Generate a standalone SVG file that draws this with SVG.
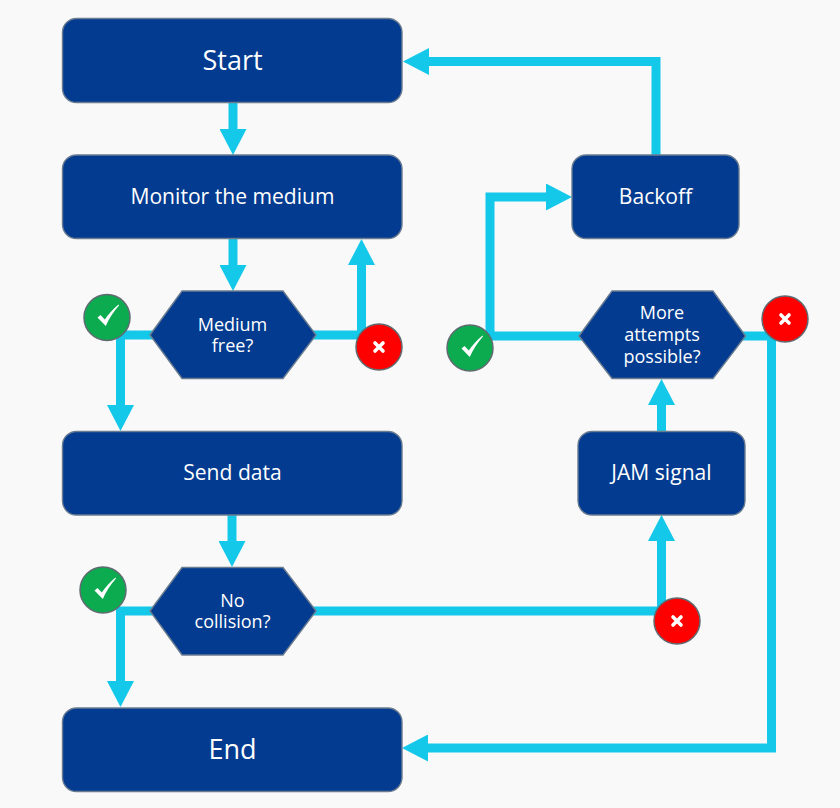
<svg xmlns="http://www.w3.org/2000/svg" width="840" height="808" viewBox="0 0 840 808">
<style>
.box{fill:#023b8f;stroke:#6b7c90;stroke-width:1.4}
.lbl{font-family:"Open Sans","Noto Sans",sans-serif;fill:#fff;text-anchor:middle}
.conn{fill:none;stroke:#14c8ea;stroke-width:9;marker-end:url(#head)}
.ok{fill:#0cab50;stroke:#5f6b70;stroke-width:1.5}
.no{fill:#fe0000;stroke:#5f6b70;stroke-width:1.5}
.mark{fill:#fff}
.cross{fill:none;stroke:#fff;stroke-width:3.6;stroke-linecap:round}
</style>
<defs>
<marker id="head" markerUnits="userSpaceOnUse" markerWidth="27" markerHeight="27" refX="0" refY="13.5" orient="auto">
<path d="M0 0L26 13.5L0 27Z" fill="#14c8ea"/>
</marker>
<path id="check" d="M-10.500 1.500L-7.500 -1L-3.200 3.500C0.500 -2 5 -7 10.500 -11.500L11 -10.500C5.500 -4.500 1 2.500 -2.200 10Z"/>
<path id="x" d="M-4 -4L4 4M4 -4L-4 4"/>
</defs>
<rect width="840" height="808" fill="#f9f9fa"/>
<g id="connectors">
<path class="conn" d="M233 102V129"/>
<path class="conn" d="M233 238V265"/>
<path class="conn" d="M305 335H361.500V265"/>
<path class="conn" d="M160 335H120.500V405"/>
<path class="conn" d="M232 515V541"/>
<path class="conn" d="M160 611H120.500V681"/>
<path class="conn" d="M305 611H661.500V541"/>
<path class="conn" d="M661.500 432V405"/>
<path class="conn" d="M590 336H490V197H546"/>
<path class="conn" d="M656 155V61.500H429"/>
<path class="conn" d="M735 336H771.500V748H428"/>
</g>
<g id="start"><rect class="box" x="62.500" y="18.500" width="339.500" height="84" rx="14"/><text class="lbl" x="232.500" y="70" font-size="27">Start</text></g>
<g id="monitor"><rect class="box" x="62.500" y="155" width="339.500" height="83.500" rx="14"/><text class="lbl" x="232.500" y="203.500" font-size="21.100">Monitor the medium</text></g>
<g id="medium-free"><polygon class="box" points="150,335 182,291 283,291 316,335 283,378.500 182,378.500"/><text class="lbl" font-size="18"><tspan x="232.500" y="331">Medium</tspan><tspan x="232.500" y="352">free?</tspan></text></g>
<g id="send"><rect class="box" x="62.500" y="431.500" width="339.500" height="83.500" rx="14"/><text class="lbl" x="232.500" y="480" font-size="21.100">Send data</text></g>
<g id="no-collision"><polygon class="box" points="150,611 182,567.500 283,567.500 316,611 283,655 182,655"/><text class="lbl" font-size="18"><tspan x="232.500" y="607">No</tspan><tspan x="232.500" y="627.500">collision?</tspan></text></g>
<g id="end"><rect class="box" x="62.500" y="708" width="339.500" height="83.500" rx="14"/><text class="lbl" x="232.500" y="759" font-size="27">End</text></g>
<g id="backoff"><rect class="box" x="572" y="155" width="167" height="83.500" rx="14"/><text class="lbl" x="655.500" y="203.500" font-size="21.100">Backoff</text></g>
<g id="more-attempts"><polygon class="box" points="579,336 612,291 713,291 745.500,336 713,378.500 612,378.500"/><text class="lbl" font-size="18"><tspan x="662" y="319">More</tspan><tspan x="662" y="341">attempts</tspan><tspan x="662" y="362.500">possible?</tspan></text></g>
<g id="jam"><rect class="box" x="578" y="431.500" width="167" height="83.500" rx="14"/><text class="lbl" x="661.500" y="480" font-size="21.100">JAM signal</text></g>
<g id="yes-1"><circle class="ok" cx="107" cy="317.500" r="23"/><use class="mark" href="#check" x="108" y="316"/></g>
<g id="no-1"><circle class="no" cx="379" cy="347" r="23"/><use class="cross" href="#x" x="379" y="347"/></g>
<g id="yes-2"><circle class="ok" cx="470" cy="348" r="23"/><use class="mark" href="#check" x="472" y="347"/></g>
<g id="no-2"><circle class="no" cx="785" cy="319" r="23"/><use class="cross" href="#x" x="785" y="319"/></g>
<g id="yes-3"><circle class="ok" cx="103" cy="590" r="23"/><use class="mark" href="#check" x="105" y="589"/></g>
<g id="no-3"><circle class="no" cx="677" cy="621" r="23"/><use class="cross" href="#x" x="677" y="621"/></g>
</svg>
